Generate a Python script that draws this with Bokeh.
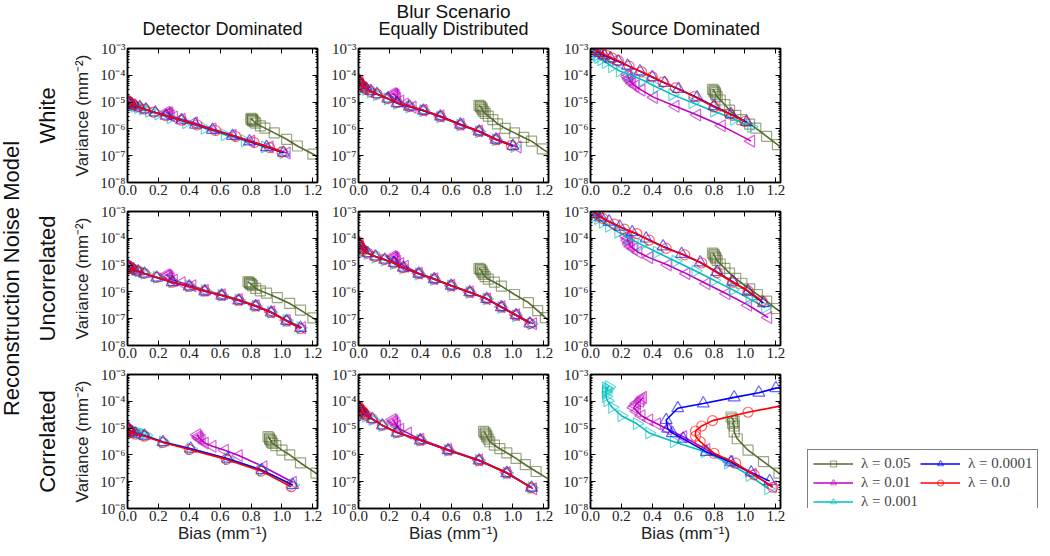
import math
from bokeh.plotting import figure
from bokeh.layouts import row, column
from bokeh.models import (Range1d, FixedTicker, CustomJSTickFormatter, LogAxis, LinearAxis,
                          Label, Legend, LegendItem)
from bokeh.embed import file_html
from bokeh.resources import INLINE

# ---------------- data ----------------
lambdas = ["0.05", "0.01", "0.001", "0.0001", "0.0"]
row_names = ["White", "Uncorrelated", "Correlated"]
col_names = ["Detector Dominated", "Equally Distributed", "Source Dominated"]
x_ticks = [0.0, 0.2, 0.4, 0.6, 0.8, 1.0, 1.2]
y_ticks = [1e-8, 1e-7, 1e-6, 1e-5, 1e-4, 1e-3]

# order of series in each panel: lambda = 0.05, 0.01, 0.001, 0.0001, 0.0
white_det_bias = [
    [0.80, 0.80, 0.81, 0.81, 0.81, 0.82, 0.83, 0.86, 0.89, 0.95, 1.03, 1.10, 1.20, 1.27],
    [0.25, 0.26, 0.26, 0.27, 0.27, 0.28, 0.30, 0.35, 0.43, 0.55, 0.68, 0.80, 0.92, 1.03],
    [0.02, 0.03, 0.04, 0.05, 0.07, 0.10, 0.14, 0.20, 0.28, 0.38, 0.50, 0.63, 0.76, 0.89, 1.01],
    [0.0, 0.01, 0.02, 0.03, 0.05, 0.08, 0.12, 0.18, 0.25, 0.35, 0.44, 0.55, 0.68, 0.79, 0.90, 1.01],
    [0.0, 0.005, 0.01, 0.02, 0.04, 0.07, 0.11, 0.17, 0.25, 0.35, 0.45, 0.57, 0.70, 0.82, 0.92, 1.00],
]
white_det_var = [
    [2.5e-6, 2.2e-6, 2.3e-6, 2.0e-6, 2.1e-6, 1.85e-6, 1.65e-6, 1.3e-6, 1.07e-6, 7.1e-7, 4.1e-7, 2.3e-7, 1.15e-7, 7.0e-8],
    [4.2e-6, 3.9e-6, 3.6e-6, 4.0e-6, 3.4e-6, 3.1e-6, 2.8e-6, 2.3e-6, 1.7e-6, 1.0e-6, 5.8e-7, 3.5e-7, 2.1e-7, 1.25e-7],
    [8.5e-6, 8.0e-6, 7.6e-6, 7.0e-6, 6.3e-6, 5.5e-6, 4.6e-6, 3.6e-6, 2.6e-6, 1.7e-6, 1.05e-6, 6.0e-7, 3.6e-7, 2.1e-7, 1.3e-7],
    [1.0e-5, 9.4e-6, 8.8e-6, 8.2e-6, 7.4e-6, 6.4e-6, 5.3e-6, 4.1e-6, 3.1e-6, 2.1e-6, 1.45e-6, 9.2e-7, 5.5e-7, 3.4e-7, 2.1e-7, 1.3e-7],
    [1.15e-5, 1.05e-5, 9.8e-6, 9.0e-6, 7.9e-6, 6.7e-6, 5.5e-6, 4.2e-6, 3.1e-6, 2.1e-6, 1.4e-6, 8.7e-7, 5.2e-7, 3.1e-7, 2.0e-7, 1.4e-7],
]

white_eq_bias = [
    [0.78, 0.79, 0.79, 0.80, 0.80, 0.81, 0.82, 0.84, 0.87, 0.90, 0.95, 1.01, 1.07, 1.12, 1.19, 1.26],
    [0.22, 0.23, 0.23, 0.24, 0.24, 0.25, 0.27, 0.30, 0.35, 0.42, 0.53, 0.66, 0.78, 0.89, 1.03],
    [0.01, 0.015, 0.02, 0.03, 0.05, 0.08, 0.12, 0.19, 0.25, 0.33, 0.42, 0.53, 0.66, 0.78, 0.89, 1.01],
    [0.0, 0.005, 0.01, 0.02, 0.03, 0.05, 0.08, 0.12, 0.19, 0.25, 0.33, 0.42, 0.53, 0.66, 0.78, 0.89, 1.0],
    [0.0, 0.0, 0.005, 0.01, 0.02, 0.03, 0.05, 0.08, 0.12, 0.19, 0.25, 0.33, 0.42, 0.53, 0.66, 0.78, 0.89, 0.99],
]
white_eq_var = [
    [7.5e-6, 6.6e-6, 7.0e-6, 6.0e-6, 5.2e-6, 4.5e-6, 3.8e-6, 3.0e-6, 2.2e-6, 1.55e-6, 1.05e-6, 7.1e-7, 4.8e-7, 3.5e-7, 1.8e-7, 1.0e-7],
    [2.1e-5, 1.9e-5, 2.0e-5, 1.8e-5, 1.6e-5, 1.4e-5, 1.1e-5, 8.5e-6, 6.5e-6, 5.0e-6, 3.0e-6, 1.5e-6, 8.3e-7, 4.2e-7, 2.1e-7],
    [5.0e-5, 4.5e-5, 4.0e-5, 3.5e-5, 3.0e-5, 2.4e-5, 1.9e-5, 1.3e-5, 9.0e-6, 6.6e-6, 4.8e-6, 2.8e-6, 1.4e-6, 7.8e-7, 3.9e-7, 2.2e-7],
    [6.5e-5, 5.8e-5, 5.0e-5, 4.4e-5, 3.8e-5, 3.2e-5, 2.6e-5, 2.0e-5, 1.35e-5, 9.2e-6, 6.8e-6, 4.8e-6, 2.9e-6, 1.45e-6, 8.0e-7, 4.0e-7, 2.3e-7],
    [7.0e-5, 6.2e-5, 5.5e-5, 4.8e-5, 4.2e-5, 3.7e-5, 3.1e-5, 2.5e-5, 2.0e-5, 1.35e-5, 9.5e-6, 6.8e-6, 5.0e-6, 2.9e-6, 1.4e-6, 8.1e-7, 4.0e-7, 2.4e-7],
]

white_src_bias = [
    [0.79, 0.80, 0.80, 0.81, 0.81, 0.82, 0.84, 0.87, 0.90, 0.94, 0.98, 1.03, 1.07, 1.14, 1.21, 1.27],
    [0.24, 0.24, 0.25, 0.25, 0.26, 0.27, 0.29, 0.33, 0.41, 0.55, 0.69, 0.85, 1.04],
    [0.02, 0.03, 0.04, 0.05, 0.07, 0.10, 0.14, 0.19, 0.26, 0.34, 0.43, 0.53, 0.66, 0.80, 0.93, 1.04],
    [0.02, 0.04, 0.06, 0.09, 0.13, 0.18, 0.24, 0.32, 0.40, 0.48, 0.57, 0.69, 0.80, 0.91, 1.01],
    [0.03, 0.05, 0.07, 0.10, 0.14, 0.18, 0.25, 0.33, 0.40, 0.47, 0.55, 0.67, 0.80, 0.90, 1.00],
]
white_src_var = [
    [3.0e-5, 2.7e-5, 2.4e-5, 2.2e-5, 1.9e-5, 1.6e-5, 1.2e-5, 8.0e-6, 5.0e-6, 3.2e-6, 2.2e-6, 1.5e-6, 1.07e-6, 5.3e-7, 2.6e-7, 1.4e-7],
    [1.1e-4, 9.0e-5, 8.0e-5, 7.0e-5, 6.0e-5, 5.0e-5, 4.0e-5, 2.8e-5, 1.5e-5, 7.0e-6, 3.3e-6, 1.3e-6, 3.5e-7],
    [8.0e-4, 6.5e-4, 5.5e-4, 4.6e-4, 3.8e-4, 3.0e-4, 2.1e-4, 1.45e-4, 1.0e-4, 6.5e-5, 3.6e-5, 1.9e-5, 9.5e-6, 4.6e-6, 2.3e-6, 1.2e-6],
    [9.5e-4, 8.0e-4, 6.8e-4, 5.5e-4, 4.3e-4, 3.3e-4, 2.3e-4, 1.4e-4, 8.5e-5, 5.2e-5, 3.1e-5, 1.5e-5, 7.0e-6, 3.5e-6, 1.8e-6],
    [9.0e-4, 7.8e-4, 6.8e-4, 5.6e-4, 4.4e-4, 3.5e-4, 2.2e-4, 1.35e-4, 8.8e-5, 5.6e-5, 3.4e-5, 1.6e-5, 6.6e-6, 3.6e-6, 1.9e-6],
]

unc_det_bias = [
    [0.78, 0.79, 0.79, 0.80, 0.80, 0.81, 0.83, 0.86, 0.90, 0.97, 1.05, 1.12, 1.20, 1.26],
    [0.25, 0.26, 0.26, 0.27, 0.27, 0.28, 0.30, 0.35, 0.42, 0.50, 0.61, 0.72, 0.83, 0.93, 1.03, 1.13],
    [0.01, 0.02, 0.03, 0.05, 0.07, 0.11, 0.19, 0.29, 0.40, 0.50, 0.61, 0.72, 0.83, 0.93, 1.03, 1.12],
    [0.0, 0.005, 0.01, 0.02, 0.04, 0.07, 0.11, 0.19, 0.29, 0.40, 0.50, 0.61, 0.72, 0.83, 0.93, 1.03, 1.12],
    [0.0, 0.005, 0.01, 0.02, 0.04, 0.07, 0.11, 0.19, 0.29, 0.40, 0.50, 0.61, 0.72, 0.83, 0.93, 1.03, 1.12],
]
unc_det_var = [
    [2.4e-6, 2.1e-6, 2.2e-6, 1.9e-6, 2.0e-6, 1.7e-6, 1.35e-6, 1.1e-6, 9.0e-7, 6.1e-7, 3.7e-7, 2.1e-7, 1.07e-7, 6.0e-8],
    [4.4e-6, 4.0e-6, 4.2e-6, 3.7e-6, 3.4e-6, 3.1e-6, 2.7e-6, 2.2e-6, 1.7e-6, 1.15e-6, 7.8e-7, 5.2e-7, 3.1e-7, 1.8e-7, 8.8e-8, 4.6e-8],
    [8.5e-6, 8.0e-6, 7.5e-6, 6.8e-6, 6.1e-6, 5.0e-6, 3.5e-6, 2.4e-6, 1.65e-6, 1.1e-6, 7.5e-7, 5.0e-7, 3.0e-7, 1.75e-7, 8.5e-8, 4.6e-8],
    [9.6e-6, 9.0e-6, 8.4e-6, 7.7e-6, 6.8e-6, 5.8e-6, 4.8e-6, 3.4e-6, 2.3e-6, 1.6e-6, 1.05e-6, 7.3e-7, 4.8e-7, 2.9e-7, 1.7e-7, 8.3e-8, 4.5e-8],
    [1.0e-5, 9.3e-6, 8.7e-6, 8.0e-6, 7.0e-6, 6.0e-6, 4.9e-6, 3.5e-6, 2.3e-6, 1.6e-6, 1.07e-6, 7.4e-7, 4.9e-7, 3.0e-7, 1.7e-7, 8.1e-8, 4.3e-8],
]

unc_eq_bias = [
    [0.78, 0.79, 0.79, 0.80, 0.80, 0.81, 0.82, 0.84, 0.88, 0.925, 1.01, 1.10, 1.16, 1.21, 1.27],
    [0.22, 0.23, 0.23, 0.24, 0.24, 0.25, 0.27, 0.30, 0.39, 0.49, 0.60, 0.72, 0.83, 0.925, 1.02, 1.13],
    [0.01, 0.015, 0.02, 0.03, 0.06, 0.11, 0.17, 0.23, 0.29, 0.39, 0.49, 0.60, 0.72, 0.83, 0.925, 1.02, 1.12],
    [0.0, 0.005, 0.01, 0.02, 0.03, 0.06, 0.11, 0.17, 0.23, 0.29, 0.39, 0.49, 0.60, 0.72, 0.83, 0.925, 1.02, 1.11],
    [0.0, 0.0, 0.005, 0.01, 0.02, 0.03, 0.06, 0.11, 0.17, 0.23, 0.29, 0.39, 0.49, 0.60, 0.72, 0.83, 0.925, 1.02, 1.11],
]
unc_eq_var = [
    [7.5e-6, 6.6e-6, 7.0e-6, 6.0e-6, 5.2e-6, 4.5e-6, 3.7e-6, 3.0e-6, 2.3e-6, 1.65e-6, 8.0e-7, 4.0e-7, 2.0e-7, 1.1e-7, 6.0e-8],
    [2.1e-5, 1.9e-5, 2.0e-5, 1.8e-5, 1.6e-5, 1.4e-5, 1.15e-5, 9.0e-6, 5.0e-6, 3.1e-6, 1.75e-6, 1.0e-6, 5.6e-7, 2.8e-7, 1.4e-7, 6.5e-8],
    [5.0e-5, 4.5e-5, 4.0e-5, 3.4e-5, 2.7e-5, 2.0e-5, 1.55e-5, 1.15e-5, 7.8e-6, 4.7e-6, 2.9e-6, 1.65e-6, 9.5e-7, 5.4e-7, 2.6e-7, 1.3e-7, 6.5e-8],
    [6.8e-5, 6.0e-5, 5.2e-5, 4.5e-5, 3.8e-5, 2.8e-5, 2.1e-5, 1.6e-5, 1.2e-5, 8.0e-6, 4.8e-6, 3.0e-6, 1.7e-6, 9.7e-7, 5.5e-7, 2.7e-7, 1.35e-7, 6.7e-8],
    [7.4e-5, 6.4e-5, 5.6e-5, 4.8e-5, 4.1e-5, 3.5e-5, 2.8e-5, 2.1e-5, 1.6e-5, 1.2e-5, 8.0e-6, 4.8e-6, 3.0e-6, 1.7e-6, 9.7e-7, 5.5e-7, 2.7e-7, 1.35e-7, 6.7e-8],
]

unc_src_bias = [
    [0.79, 0.80, 0.80, 0.81, 0.81, 0.82, 0.84, 0.87, 0.90, 0.94, 0.98, 1.03, 1.08, 1.14, 1.20, 1.27],
    [0.23, 0.24, 0.24, 0.25, 0.25, 0.26, 0.28, 0.31, 0.38, 0.50, 0.62, 0.75, 0.88, 1.02, 1.15],
    [0.02, 0.03, 0.05, 0.08, 0.12, 0.18, 0.25, 0.33, 0.43, 0.55, 0.68, 0.80, 0.92, 1.03, 1.13],
    [0.02, 0.04, 0.07, 0.12, 0.19, 0.27, 0.36, 0.47, 0.59, 0.71, 0.82, 0.92, 1.02, 1.12],
    [0.03, 0.05, 0.08, 0.155, 0.22, 0.30, 0.38, 0.49, 0.61, 0.72, 0.82, 0.92, 1.02, 1.11],
]
unc_src_var = [
    [2.8e-5, 2.5e-5, 2.2e-5, 2.0e-5, 1.8e-5, 1.5e-5, 1.1e-5, 7.5e-6, 5.0e-6, 3.2e-6, 2.1e-6, 1.3e-6, 8.0e-7, 4.5e-7, 2.4e-7, 1.2e-7],
    [1.2e-4, 1.0e-4, 8.5e-5, 7.0e-5, 6.0e-5, 5.0e-5, 4.0e-5, 3.0e-5, 1.9e-5, 1.0e-5, 4.8e-6, 2.0e-6, 8.5e-7, 3.2e-7, 1.1e-7],
    [8.5e-4, 7.0e-4, 5.5e-4, 4.0e-4, 2.8e-4, 1.7e-4, 1.0e-4, 5.8e-5, 3.0e-5, 1.4e-5, 6.0e-6, 2.7e-6, 1.2e-6, 5.5e-7, 2.6e-7],
    [9.8e-4, 8.0e-4, 6.0e-4, 4.2e-4, 2.7e-4, 1.7e-4, 9.8e-5, 5.0e-5, 2.6e-5, 1.25e-5, 5.5e-6, 2.4e-6, 1.05e-6, 3.8e-7],
    [9.5e-4, 7.5e-4, 5.5e-4, 3.4e-4, 2.2e-4, 1.5e-4, 8.5e-5, 4.2e-5, 2.4e-5, 1.2e-5, 5.2e-6, 2.3e-6, 1.1e-6, 4.6e-7],
]

cor_det_bias = [
    [0.91, 0.92, 0.92, 0.93, 0.93, 0.94, 0.96, 1.00, 1.05, 1.12, 1.22, 1.28],
    [0.45, 0.46, 0.46, 0.47, 0.48, 0.50, 0.55, 0.63, 0.72, 0.88, 1.07],
    [0.01, 0.02, 0.04, 0.06, 0.08, 0.10, 0.12, 0.23, 0.41, 0.65, 0.87, 1.07],
    [0.0, 0.005, 0.01, 0.02, 0.03, 0.05, 0.11, 0.23, 0.41, 0.65, 0.87, 1.07],
    [0.0, 0.003, 0.006, 0.01, 0.02, 0.05, 0.11, 0.23, 0.40, 0.64, 0.865, 1.06],
]
cor_det_var = [
    [4.8e-6, 4.2e-6, 3.8e-6, 3.4e-6, 3.0e-6, 2.7e-6, 2.2e-6, 1.5e-6, 1.0e-6, 5.0e-7, 2.1e-7, 1.2e-7],
    [5.6e-6, 5.0e-6, 4.4e-6, 4.0e-6, 3.5e-6, 2.8e-6, 2.1e-6, 1.5e-6, 9.5e-7, 3.6e-7, 9.5e-8],
    [8.5e-6, 8.0e-6, 7.5e-6, 7.0e-6, 6.5e-6, 6.0e-6, 5.4e-6, 3.0e-6, 1.7e-6, 7.2e-7, 2.7e-7, 7.5e-8],
    [1.05e-5, 9.5e-6, 8.5e-6, 7.5e-6, 7.0e-6, 6.2e-6, 5.2e-6, 3.0e-6, 1.7e-6, 7.2e-7, 2.7e-7, 7.5e-8],
    [1.0e-5, 9.0e-6, 8.2e-6, 7.5e-6, 6.8e-6, 6.0e-6, 5.0e-6, 2.9e-6, 1.6e-6, 6.8e-7, 2.5e-7, 6.5e-8],
]

cor_eq_bias = [
    [0.81, 0.82, 0.82, 0.83, 0.83, 0.84, 0.85, 0.88, 0.915, 0.96, 1.02, 1.08, 1.15, 1.27],
    [0.22, 0.23, 0.23, 0.24, 0.25, 0.27, 0.32, 0.40, 0.58, 0.78, 0.96, 1.13],
    [0.01, 0.015, 0.02, 0.03, 0.05, 0.09, 0.155, 0.25, 0.40, 0.58, 0.78, 0.96, 1.12],
    [0.0, 0.005, 0.01, 0.02, 0.03, 0.05, 0.09, 0.155, 0.25, 0.40, 0.58, 0.78, 0.96, 1.12],
    [0.0, 0.005, 0.01, 0.02, 0.03, 0.035, 0.05, 0.09, 0.155, 0.25, 0.40, 0.58, 0.78, 0.96, 1.12],
]
cor_eq_var = [
    [7.5e-6, 6.6e-6, 6.0e-6, 5.4e-6, 4.7e-6, 3.9e-6, 3.1e-6, 2.3e-6, 1.7e-6, 1.2e-6, 7.4e-7, 4.3e-7, 2.4e-7, 9.0e-8],
    [2.1e-5, 1.9e-5, 1.7e-5, 1.5e-5, 1.2e-5, 9.0e-6, 6.5e-6, 3.8e-6, 1.6e-6, 6.5e-7, 2.2e-7, 5.5e-8],
    [4.8e-5, 4.2e-5, 3.8e-5, 3.3e-5, 2.8e-5, 2.1e-5, 1.25e-5, 6.8e-6, 3.5e-6, 1.5e-6, 6.2e-7, 2.1e-7, 6.0e-8],
    [6.2e-5, 5.5e-5, 4.9e-5, 4.3e-5, 3.8e-5, 3.0e-5, 2.2e-5, 1.26e-5, 6.8e-6, 3.5e-6, 1.5e-6, 6.2e-7, 2.1e-7, 6.0e-8],
    [6.5e-5, 5.8e-5, 5.2e-5, 4.6e-5, 4.0e-5, 3.6e-5, 3.0e-5, 2.2e-5, 1.26e-5, 6.8e-6, 3.5e-6, 1.5e-6, 6.2e-7, 2.1e-7, 5.9e-8],
]

cor_src_bias = [
    [0.91, 0.92, 0.93, 0.92, 0.93, 0.93, 0.95, 1.02, 1.12, 1.22, 1.30],
    [0.34, 0.33, 0.32, 0.30, 0.29, 0.28, 0.30, 0.33, 0.38, 0.43, 0.50, 0.60, 0.75, 0.90, 1.05, 1.18],
    [0.12, 0.10, 0.11, 0.10, 0.10, 0.10, 0.11, 0.14, 0.20, 0.30, 0.38, 0.54, 0.74, 0.89, 1.03, 1.15],
    [1.27, 1.20, 1.09, 0.93, 0.73, 0.565, 0.49, 0.50, 0.53, 0.60, 0.75, 0.91, 1.04, 1.16],
    [1.30, 1.02, 0.79, 0.72, 0.68, 0.68, 0.71, 0.80, 0.94, 1.06, 1.18],
]
cor_src_var = [
    [2.6e-5, 2.2e-5, 1.8e-5, 1.5e-5, 1.2e-5, 7.2e-6, 4.0e-6, 1.5e-6, 5.6e-7, 2.1e-7, 1.0e-7],
    [1.4e-4, 1.2e-4, 1.0e-4, 8.5e-5, 7.0e-5, 5.8e-5, 4.2e-5, 2.9e-5, 2.0e-5, 1.45e-5, 9.0e-6, 4.8e-6, 1.6e-6, 5.6e-7, 1.9e-7, 6.5e-8],
    [3.5e-4, 3.2e-4, 2.8e-4, 2.4e-4, 2.0e-4, 1.5e-4, 1.05e-4, 6.0e-5, 2.9e-5, 1.45e-5, 6.6e-6, 3.1e-6, 1.3e-6, 5.0e-7, 1.7e-7, 5.5e-8],
    [3.5e-4, 3.1e-4, 2.1e-4, 1.4e-4, 8.3e-5, 5.5e-5, 2.0e-5, 9.5e-6, 6.5e-6, 4.0e-6, 1.3e-6, 5.3e-7, 2.2e-7, 1.05e-7],
    [8.0e-5, 3.9e-5, 1.9e-5, 1.2e-5, 7.8e-6, 5.0e-6, 3.1e-6, 1.15e-6, 4.9e-7, 1.8e-7, 6.2e-8],
]

panels = [
    [(white_det_bias, white_det_var), (white_eq_bias, white_eq_var), (white_src_bias, white_src_var)],
    [(unc_det_bias, unc_det_var), (unc_eq_bias, unc_eq_var), (unc_src_bias, unc_src_var)],
    [(cor_det_bias, cor_det_var), (cor_eq_bias, cor_eq_var), (cor_src_bias, cor_src_var)],
]

# ---------------- styles ----------------
COLORS = ["#556b2f", "#bf00bf", "#00bfbf", "#0000ff", "#ff0000"]
MARKERS = [("square", 0.0, 10), ("triangle", math.pi / 2, 12), ("triangle", -math.pi / 2, 12),
           ("triangle", 0.0, 12), ("circle", 0.0, 10)]
SERIF = "Liberation Serif"
SANS = "Liberation Sans"

FW, FH = 190, 134
HEADER_H = 39
LEFT_W = 59
TOP = [9, 9, 9]
BOTTOM = [20, 20, 39]
LEFT = [68, 33, 34]
RIGHT = 8
LEG_W = 254

minor_y = [k * 10.0 ** e for e in range(-8, -3) for k in range(2, 10)]

YFMT = """
const sup = {"-":"\\u207b","0":"\\u2070","1":"\\u00b9","2":"\\u00b2","3":"\\u00b3","4":"\\u2074",
             "5":"\\u2075","6":"\\u2076","7":"\\u2077","8":"\\u2078","9":"\\u2079"};
const e = Math.round(Math.log10(tick));
return "10" + String(e).split("").map(c => sup[c]).join("");
"""
XFMT = "return tick.toFixed(1);"


def style_axis(ax, show):
    ax.axis_line_color = "black"
    ax.axis_line_width = 1.5
    ax.major_tick_in = 5
    ax.major_tick_out = 0
    ax.minor_tick_in = 2
    ax.minor_tick_out = 0
    ax.major_tick_line_color = "black"
    ax.minor_tick_line_color = "black"
    if show:
        ax.major_label_text_font = SERIF
        ax.major_label_text_font_size = "15px"
        ax.major_label_text_color = "#222222"
        ax.major_label_standoff = 2
    else:
        ax.major_label_text_font_size = "1px"
        ax.major_label_text_color = None
        ax.major_label_standoff = 0


def draw_series(p, bias, var):
    items = []
    for k in range(5):
        c = COLORS[k]
        mk, ang, sz = MARKERS[k]
        lr = p.line(bias[k], var[k], line_color=c, line_width=1.6)
        sr = p.scatter(bias[k], var[k], marker=mk, angle=ang, size=sz, fill_color=None,
                       line_color=c, line_alpha=0.6, line_width=1.2)
        items.append(LegendItem(label="\u03bb = " + lambdas[k], renderers=[lr, sr]))
    return items


def make_panel(ri, ci):
    bias, var = panels[ri][ci]
    p = figure(frame_width=FW, frame_height=FH, y_axis_type="log",
               x_range=Range1d(0, 1.23), y_range=Range1d(1e-8, 1e-3),
               min_border_left=LEFT[ci], min_border_right=RIGHT,
               min_border_top=TOP[ri], min_border_bottom=BOTTOM[ri],
               toolbar_location=None, output_backend="svg", title=None)
    p.xgrid.visible = False
    p.ygrid.visible = False
    p.outline_line_color = "black"
    p.outline_line_width = 1.5
    p.background_fill_color = "white"
    p.border_fill_color = "white"

    xt = FixedTicker(ticks=x_ticks, minor_ticks=[])
    yt = FixedTicker(ticks=y_ticks, minor_ticks=minor_y)
    xa = p.below[0]
    ya = p.left[0]
    xa.ticker = xt
    xa.formatter = CustomJSTickFormatter(code=XFMT)
    ya.ticker = yt
    ya.formatter = CustomJSTickFormatter(code=YFMT)
    style_axis(xa, True)
    style_axis(ya, True)
    if ci == 0:
        ya.axis_label = "Variance (mm\u207b\u00b2)"
        ya.axis_label_text_font = SANS
        ya.axis_label_text_font_size = "17px"
        ya.axis_label_text_font_style = "normal"
        ya.axis_label_text_color = "#222222"
        ya.axis_label_standoff = 5
    if ri == 2:
        xa.axis_label = "Bias (mm\u207b\u00b9)"
        xa.axis_label_text_font = SANS
        xa.axis_label_text_font_size = "17px"
        xa.axis_label_text_font_style = "normal"
        xa.axis_label_text_color = "#222222"
        xa.axis_label_standoff = 0

    ra = LogAxis(ticker=yt, formatter=CustomJSTickFormatter(code=YFMT))
    style_axis(ra, False)
    p.add_layout(ra, "right")
    ta = LinearAxis(ticker=xt, formatter=CustomJSTickFormatter(code=XFMT))
    style_axis(ta, False)
    p.add_layout(ta, "above")

    draw_series(p, bias, var)
    return p


def blank(w, h, y_range=(0, 1)):
    b = figure(width=w, height=h, x_range=Range1d(0, 1), y_range=Range1d(*y_range),
               x_axis_location=None, y_axis_location=None, toolbar_location=None,
               output_backend="svg", title=None, min_border=0)
    b.outline_line_color = None
    b.grid.visible = False
    return b


# header with titles
col_ws = [LEFT[j] + FW + RIGHT for j in range(3)]
header = blank(sum(col_ws), HEADER_H)
centers = [LEFT[0] + FW / 2, col_ws[0] + LEFT[1] + FW / 2, col_ws[0] + col_ws[1] + LEFT[2] + FW / 2]
header.add_layout(Label(x=centers[1], y=HEADER_H - 11, x_units="screen", y_units="screen",
                        text="Blur Scenario", text_align="center", text_baseline="middle",
                        text_font=SANS, text_font_size="19px", text_color="#111111"))
for j in range(3):
    header.add_layout(Label(x=centers[j], y=HEADER_H - 28, x_units="screen", y_units="screen",
                            text=col_names[j], text_align="center", text_baseline="middle",
                            text_font=SANS, text_font_size="18px", text_color="#111111"))

# left strip with rotated labels
row_h = [TOP[i] + FH + BOTTOM[i] for i in range(3)]
total_h = HEADER_H + sum(row_h)
leftfig = blank(LEFT_W, total_h)
frame_centers = []
y0 = HEADER_H
for i in range(3):
    frame_centers.append(y0 + TOP[i] + FH / 2)
    y0 += row_h[i]
leftfig.add_layout(Label(x=11, y=total_h - frame_centers[1], x_units="screen", y_units="screen",
                         text="Reconstruction Noise Model", angle=math.pi / 2,
                         text_align="center", text_baseline="middle",
                         text_font=SANS, text_font_size="22px", text_color="#111111"))
for i in range(3):
    leftfig.add_layout(Label(x=47, y=total_h - frame_centers[i], x_units="screen", y_units="screen",
                             text=row_names[i], angle=math.pi / 2,
                             text_align="center", text_baseline="middle",
                             text_font=SANS, text_font_size="22px", text_color="#111111"))

# legend in its own area to the right of the bottom row (its series lie outside its visible range)
legfig = blank(LEG_W, row_h[2], y_range=(10, 20))
leg_items = draw_series(legfig, cor_src_bias, cor_src_var)
legend = Legend(items=leg_items, location=(19, -8), orientation="vertical", nrows=3,
                border_line_color="black", border_line_width=1.5,
                background_fill_color="white", background_fill_alpha=1.0,
                label_text_font=SERIF, label_text_font_size="15px",
                glyph_width=40, glyph_height=15, label_height=15,
                label_standoff=8, spacing=2, padding=5, margin=0)
legfig.add_layout(legend)

rows = [row(*[make_panel(i, j) for j in range(3)]) for i in range(3)]
rows[2] = row(*rows[2].children, legfig)
layout = row(leftfig, column(header, *rows))

open("out.html", "w").write(file_html(layout, INLINE))
